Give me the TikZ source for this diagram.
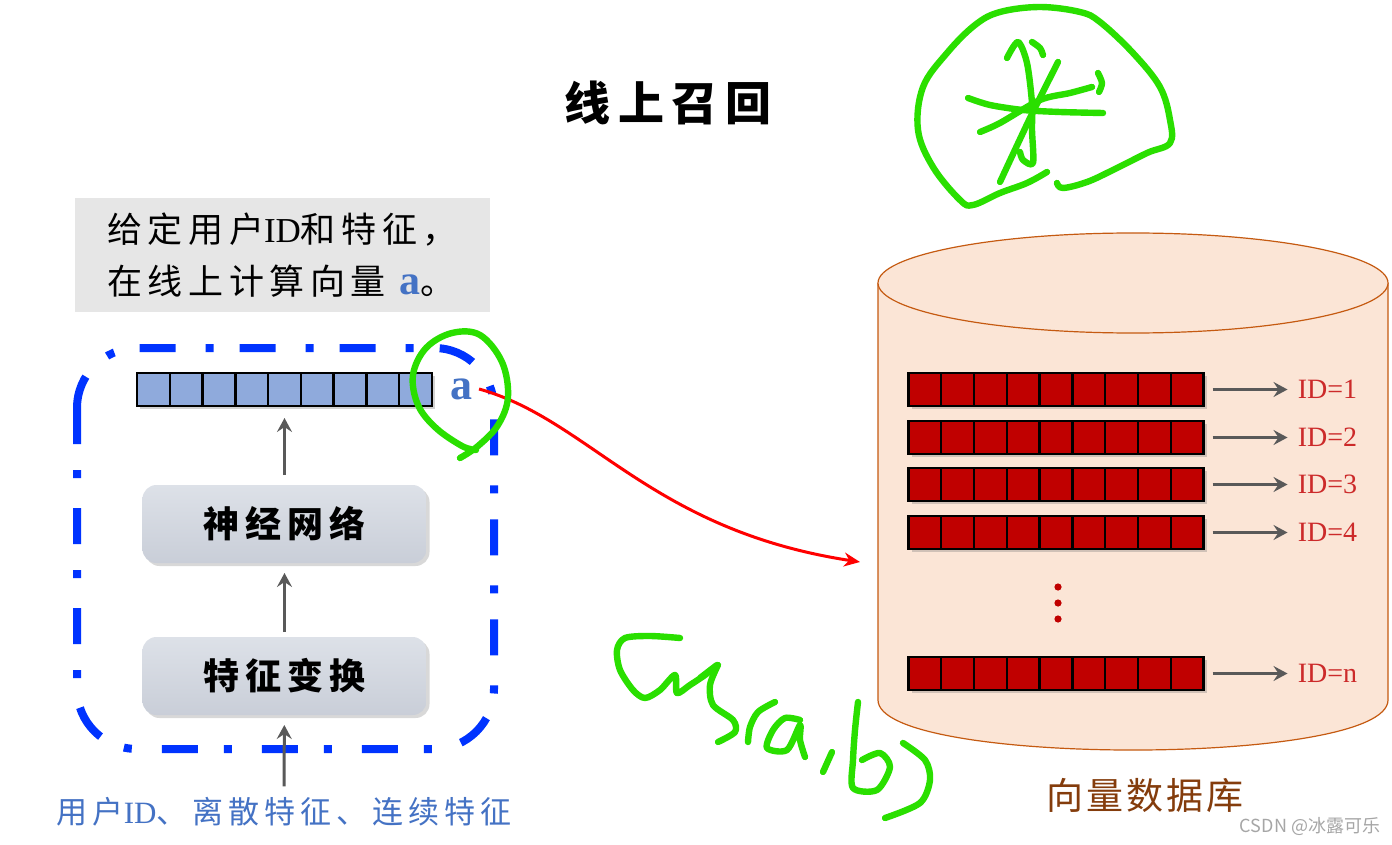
\documentclass[tikz,border=0pt]{standalone}
\usepackage{fontspec}
\setmainfont{Liberation Serif}
\newfontfamily\cjk{Noto Sans CJK SC}
\newfontfamily\cjkls{Noto Sans CJK SC}[LetterSpace=16]
\usetikzlibrary{positioning}
\usetikzlibrary{arrows.meta}
\usetikzlibrary{shadows}
\usetikzlibrary{calc}
\definecolor{dashblue}{HTML}{0033FF}
\definecolor{vecblue}{HTML}{8FAADC}
\definecolor{txtblue}{HTML}{4472C4}
\definecolor{inkgreen}{HTML}{2ADF00}
\definecolor{dbfill}{HTML}{FBE5D6}
\definecolor{dbline}{HTML}{C55A11}
\definecolor{dbred}{HTML}{C00000}
\definecolor{idred}{HTML}{CC2A2A}
\definecolor{arrowgray}{HTML}{595959}
\definecolor{dbbrown}{HTML}{843C0C}
\definecolor{infogray}{HTML}{E6E6E6}
\tikzset{vecbox/.style={rectangle,draw=black,line width=1.2pt,outer sep=0pt,
inner sep=0pt,minimum width=147.5pt,minimum height=16.5pt,
drop shadow={shadow xshift=1.5pt,shadow yshift=-1.5pt,opacity=0.35}}}
\tikzset{stagebox/.style={rectangle,rounded corners=7pt,draw=none,outer sep=0pt,
top color=stagetop,bottom color=stagebot,minimum width=142pt,minimum height=39pt,
drop shadow={shadow xshift=1.5pt,shadow yshift=-1.5pt,opacity=0.3},
font=\cjkls\fontsize{18}{20}\selectfont\bfseries}}
\tikzset{flowarrow/.style={draw=arrowgray,line width=1.5pt,
-{Stealth[length=7pt,width=7.5pt,inset=2.5pt]}}}
\tikzset{idlabel/.style={text=idred,font=\fontsize{14}{16}\selectfont,inner sep=0pt,anchor=west}}
\tikzset{greenink/.style={draw=inkgreen,line width=3.2pt,line cap=round,line join=round}}
\definecolor{stagetop}{HTML}{DDE1E8}
\definecolor{stagebot}{HTML}{C9CED8}

\begin{document}
\begin{tikzpicture}[x=0.5pt,y=-0.5pt]
    \useasboundingbox[fill=white] (0,0) rectangle (1392,845);

    % title
    \node (title) at (668,103) {\cjkls\fontsize{23}{26}\selectfont\bfseries 线上召回};

    % left column
    \node[fill=infogray,minimum width=207.5pt,minimum height=57pt,align=left,
          font=\cjkls\fontsize{17.5}{26}\selectfont] (info) at (282.5,255)
          {给定用户{\rmfamily ID}和特征，\\在线上计算向量 {\rmfamily\bfseries\fontsize{21}{21}\selectfont\color{txtblue}a}。};

    \draw[dashblue,line width=4pt,rounded corners=30pt,
          dash pattern=on 18pt off 13pt on 4pt off 15pt] (77,348) rectangle (494,749);

    \node[vecbox,fill=vecblue] (veca) at (284.5,389.5) {};
    \node[text=txtblue,font=\bfseries\fontsize{22}{22}\selectfont] (alabel) at (461,389) {a};

    \node[stagebox] (nnbox) [below=39.5pt of veca] {神经网络};
    \node[stagebox] (ftbox) [below=37pt of nnbox] {特征变换};
    \node[text=txtblue,font=\cjkls\fontsize{15.5}{18}\selectfont] (input) at (284,812)
          {用户{\rmfamily ID}、离散特征、连续特征};

    \draw[flowarrow,shorten <=5pt,shorten >=6pt] (nnbox) -- (veca);
    \draw[flowarrow,shorten <=2.5pt,shorten >=5pt] (ftbox) -- (nnbox);
    \draw[flowarrow,shorten <=2pt,shorten >=5pt] (input) -- (ftbox);

    % vector database
    \draw[dbline,fill=dbfill,line width=0.6pt] (878,283) -- (878,700)
          .. controls (878,766.7) and (1388,766.7) .. (1388,700) -- (1388,283);
    \draw[dbline,fill=dbfill,line width=0.6pt] (1133,283) ellipse [x radius=255,y radius=50];

    \node[vecbox,fill=dbred] (v1) at (1056,389.5) {};
    \node[vecbox,fill=dbred] (v2) [below=7.5pt of v1] {};
    \node[vecbox,fill=dbred] (v3) [below=7pt of v2] {};
    \node[vecbox,fill=dbred] (v4) [below=7.5pt of v3] {};
    \node[vecbox,fill=dbred] (vn) at (1056,673.5) {};

    \foreach \v in {veca,v1,v2,v3,v4,vn}
        \foreach \i in {1,...,8}
            \draw[black,line width=1.2pt] ($(\v.south west)!\i/9!(\v.south east)$)
                  -- ($(\v.north west)!\i/9!(\v.north east)$);

    \foreach \v/\t in {v1/1,v2/2,v3/3,v4/4,vn/n} {
        \node[idlabel] (id\t) at ([xshift=47pt]\v.east) {ID=\t};
        \draw[flowarrow,shorten <=4.5pt,shorten >=5pt] (\v.east) -- (id\t.west);
    }

    \foreach \y [count=\k] in {587,603,619}
        \node[circle,fill=dbred,inner sep=0pt,minimum size=3.6pt] (dot\k) at (1058,\y) {};

    \node[text=dbbrown,font=\cjk\fontsize{18.5}{20}\selectfont\addfontfeature{LetterSpace=8}] (dbname) at (1145,795) {向量数据库};
    \node[text=black!35,font=\cjk\fontsize{9}{10}\selectfont] (mark) at (1310,826) {CSDN @冰露可乐};

    % query link
    \coordinate (dbin) at (860,562);
    \draw[red,line width=1.5pt,-{Stealth[length=8pt,width=7pt]}] (alabel.east)
          .. controls (590,420) and (650,530) .. (dbin);

    % hand annotations
    \draw[greenink] plot[smooth,tension=0.6] coordinates {(460,458) (478,446) (498,425) (508,397)
          (502,362) (480,335) (452,333) (426,348) (413,375) (418,405) (436,428) (462,446) (476,450)};
    \draw[greenink] plot[smooth,tension=0.6] coordinates {(1047,172) (1027,183) (1000,193) (973,205)
          (960,200) (933,167) (918,130) (923,87) (947,53) (975,25) (1000,12) (1040,7) (1080,12)
          (1100,22) (1133,53) (1160,87) (1170,120) (1170,143) (1147,153) (1113,170) (1087,182)
          (1063,188) (1057,183)};
    \draw[greenink] plot[smooth,tension=0.5] coordinates {(1007,58) (1018,42) (1027,63) (1032,103)
          (1032,130) (1033,163) (1023,160) (1020,152)};
    \draw[greenink] plot[smooth] coordinates {(1032,42) (1040,48) (1043,55)};
    \draw[greenink] plot[smooth] coordinates {(1058,62) (1030,118) (1000,182)};
    \draw[greenink] plot[smooth] coordinates {(968,98) (990,105) (1023,110) (1060,112) (1103,113)};
    \draw[greenink] plot[smooth] coordinates {(980,132) (1000,123) (1040,100) (1070,93) (1092,87)};
    \draw[greenink] plot[smooth] coordinates {(1098,73) (1102,83) (1099,92)};

    \draw[greenink] plot[smooth,tension=0.5] coordinates {(680,638) (650,636) (625,638) (617,650)
          (620,670) (633,690) (645,698) (660,690) (675,675) (677,693) (690,685) (705,675) (717,665) (700,678)};
    \draw[greenink] plot[smooth,tension=0.5] coordinates {(718,665) (710,685) (713,705) (733,720)
          (735,732) (718,742)};
    \draw[greenink] plot[smooth,tension=0.5] coordinates {(775,702) (758,712) (750,727) (748,742)};
    \draw[greenink] plot[smooth,tension=0.5] coordinates {(800,720) (785,718) (773,730) (767,748)
          (787,750) (800,725) (800,740) (805,757)};
    \draw[greenink] plot[smooth] coordinates {(832,752) (823,772)};
    \draw[greenink] plot[smooth,tension=0.5] coordinates {(858,702) (855,730) (853,760) (853,788)
          (877,790) (890,767) (880,753) (862,760)};
    \draw[greenink] plot[smooth,tension=0.5] coordinates {(903,743) (925,760) (930,780) (920,803) (885,818)};
\end{tikzpicture}
\end{document}
